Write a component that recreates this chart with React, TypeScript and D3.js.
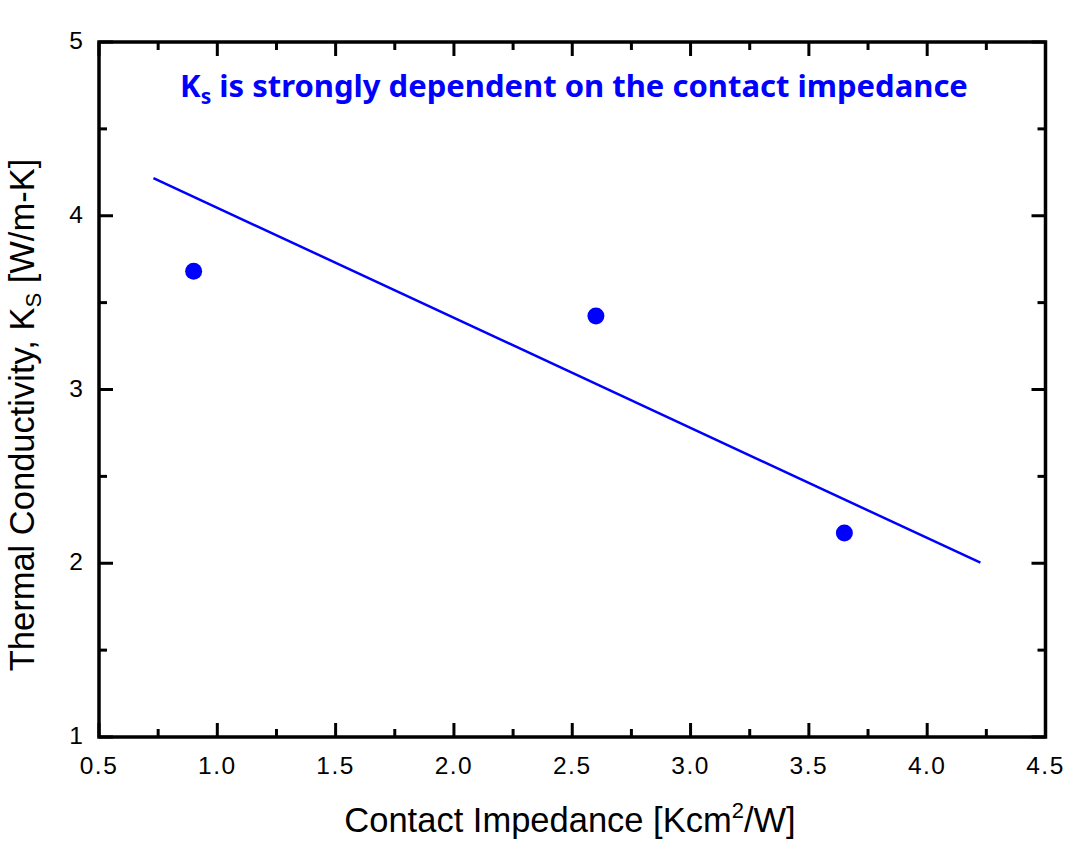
import React from "react";
import * as d3 from "d3";

const pointX = [0.9, 2.6, 3.65];
const pointY = [3.68, 3.423, 2.174];
const fitX = [0.73, 4.225];
const fitY = [4.217, 2.003];
const xTicks = [0.5, 1.0, 1.5, 2.0, 2.5, 3.0, 3.5, 4.0, 4.5];
const yTicks = [1, 2, 3, 4, 5];
const xMinor = [0.75, 1.25, 1.75, 2.25, 2.75, 3.25, 3.75, 4.25];
const yMinor = [1.5, 2.5, 3.5, 4.5];

export default function App() {
  const W = 1083, H = 852;
  const L = 99, R = 1045.5, T = 42, B = 737;
  const x = d3.scaleLinear().domain([0.5, 4.5]).range([L, R]);
  const y = d3.scaleLinear().domain([1, 5]).range([B, T]);
  const line = d3.line<number>().x((_, i) => x(fitX[i])).y((d) => y(d));
  const axisFont = "'Liberation Sans', Arial, sans-serif";
  const major = 14, minor = 8;
  return (
    <svg width={W} height={H} style={{ position: "absolute", left: 0, top: 0 }}>
      <rect width={W} height={H} fill="white" />
      {xTicks.map((t) => (
        <g key={"xt" + t}>
          <line x1={x(t)} x2={x(t)} y1={B} y2={B - major} stroke="black" strokeWidth={3} />
          <line x1={x(t)} x2={x(t)} y1={T} y2={T + major} stroke="black" strokeWidth={3} />
          <text x={x(t)} y={B + 37} textAnchor="middle" fontFamily={axisFont} fontSize={24.5} letterSpacing={1.5}>
            {t.toFixed(1)}
          </text>
        </g>
      ))}
      {xMinor.map((t) => (
        <g key={"xm" + t}>
          <line x1={x(t)} x2={x(t)} y1={B} y2={B - minor} stroke="black" strokeWidth={3} />
          <line x1={x(t)} x2={x(t)} y1={T} y2={T + minor} stroke="black" strokeWidth={3} />
        </g>
      ))}
      {yTicks.map((t) => (
        <g key={"yt" + t}>
          <line x1={L} x2={L + major} y1={y(t)} y2={y(t)} stroke="black" strokeWidth={3} />
          <line x1={R} x2={R - major} y1={y(t)} y2={y(t)} stroke="black" strokeWidth={3} />
          <text x={L - 16} y={y(t) + 7} textAnchor="end" fontFamily={axisFont} fontSize={24.5}>
            {t}
          </text>
        </g>
      ))}
      {yMinor.map((t) => (
        <g key={"ym" + t}>
          <line x1={L} x2={L + minor} y1={y(t)} y2={y(t)} stroke="black" strokeWidth={3} />
          <line x1={R} x2={R - minor} y1={y(t)} y2={y(t)} stroke="black" strokeWidth={3} />
        </g>
      ))}
      <rect x={L} y={T} width={R - L} height={B - T} fill="none" stroke="black" strokeWidth={3.5} />
      <path d={line(fitY) || ""} fill="none" stroke="#0000FF" strokeWidth={2.5} />
      {pointX.map((px, i) => (
        <circle key={i} cx={x(px)} cy={y(pointY[i])} r={8.5} fill="#0000FF" />
      ))}
      <text x={574} y={97} textAnchor="middle" fontFamily="'Noto Sans', 'Open Sans', sans-serif" fontWeight="bold" fontSize={31} fill="#0000FF">
        K<tspan fontSize={21} dy={7}>s</tspan>
        <tspan dy={-7}> is strongly dependent on the contact impedance</tspan>
      </text>
      <text x={570} y={832} textAnchor="middle" fontFamily={axisFont} fontSize={34.5}>
        Contact Impedance [Kcm<tspan fontSize={22} dy={-14}>2</tspan>
        <tspan dy={14}>/W]</tspan>
      </text>
      <text transform={`translate(34,415) rotate(-90)`} textAnchor="middle" fontFamily={axisFont} fontSize={34.5}>
        Thermal Conductivity, K<tspan fontSize={22} dy={7}>S</tspan>
        <tspan dy={-7}> [W/m-K]</tspan>
      </text>
    </svg>
  );
}
